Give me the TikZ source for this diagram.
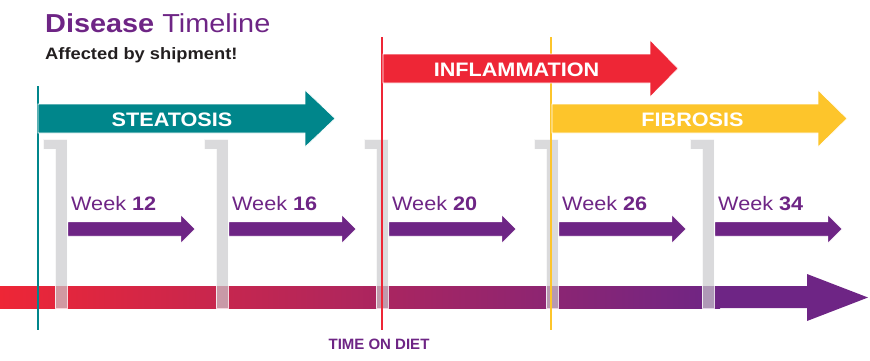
\documentclass[tikz,border=0pt]{standalone}
\usepackage{fontspec}
\setmainfont{Liberation Sans}[FakeStretch=1.11]
\newfontfamily\axisfont{Liberation Sans}
\definecolor{dtpurple}{HTML}{6E2585}
\definecolor{dtteal}{HTML}{00868B}
\definecolor{dtred}{HTML}{EE2636}
\definecolor{dtyellow}{HTML}{FDC52B}
\definecolor{dtgray}{HTML}{CACBCD}
\definecolor{dtdark}{HTML}{231F20}
\begin{document}
\begin{tikzpicture}[x=1pt,y=-1pt,
    phase/.style={draw=white,line width=0.6pt},
    phaselabel/.style={text=white,font=\fontsize{19.5}{22}\selectfont\bfseries,anchor=base,inner sep=0pt},
    weeklabel/.style={text=dtpurple,font=\fontsize{19.5}{22}\selectfont,anchor=base west,inner sep=0pt},
    bracketbar/.style={fill=dtgray,fill opacity=0.7,draw=white,draw opacity=0.8,line width=0.25pt}]
    \useasboundingbox (0,0) rectangle (870,360);
    %% Title
    \node[anchor=base west,inner sep=0pt,text=dtpurple,font=\fontsize{26}{30}\selectfont]
        (title) at (45,32) {\textbf{Disease} Timeline};
    \node[anchor=base west,inner sep=0pt,text=dtdark,font=\fontsize{16.5}{19}\selectfont\bfseries]
        (subtitle) at (45,59.5) {Affected by shipment!};
    %% Time axis
    \shade[left color=dtred,right color=dtpurple] (0,286) rectangle (720,308);
    \fill[dtpurple] (719.5,286) -- (807,286) -- (807,274) -- (868,297.5)
        -- (807,321) -- (807,308) -- (719.5,308) -- cycle;
    \node[anchor=base,inner sep=0pt,text=dtpurple,font=\axisfont\fontsize{15}{17}\selectfont\bfseries]
        (axis) at (379,349) {TIME ON DIET};
    %% Brackets
    \foreach \r in {67,228,388,558,714}
        \path[bracketbar] (\r-24,139) -- (\r,139) -- (\r,308) -- (\r-12,308)
            -- (\r-12,149) -- (\r-24,149) -- cycle;
    %% Phase markers
    \fill[dtteal] (36.5,86) rectangle (38.5,330);
    \fill[dtred] (380.5,37) rectangle (382.5,330);
    \fill[dtyellow] (549.5,37) rectangle (551.5,330);
    %% Weeks
    \foreach \r/\w in {67/12,228/16,388/20,558/26,714/34}{
        \path[fill=dtpurple,draw=white,line width=0.4pt] (\r+1,222) -- (\r+114,222)
            -- (\r+114,215) -- (\r+128,229) -- (\r+114,243) -- (\r+114,236)
            -- (\r+1,236) -- cycle;
        \node[weeklabel] (week\w) at (\r+4,210) {Week \textbf{\w}};
    }
    %% Phases
    \path[phase,fill=dtteal] (38,104) -- (305,104) -- (305,90) -- (335,118.5)
        -- (305,147) -- (305,133) -- (38,133) -- cycle;
    \node[phaselabel] (steatosis) at (172,126) {STEATOSIS};
    \path[phase,fill=dtred] (383,54) -- (650,54) -- (650,40) -- (678,68.5)
        -- (650,97) -- (650,83) -- (383,83) -- cycle;
    \node[phaselabel] (inflammation) at (516.5,76.5) {INFLAMMATION};
    \path[phase,fill=dtyellow] (552,104) -- (818,104) -- (818,90) -- (847,118.5)
        -- (818,147) -- (818,133) -- (552,133) -- cycle;
    \node[phaselabel] (fibrosis) at (692.5,126.5) {FIBROSIS};
\end{tikzpicture}
\end{document}
